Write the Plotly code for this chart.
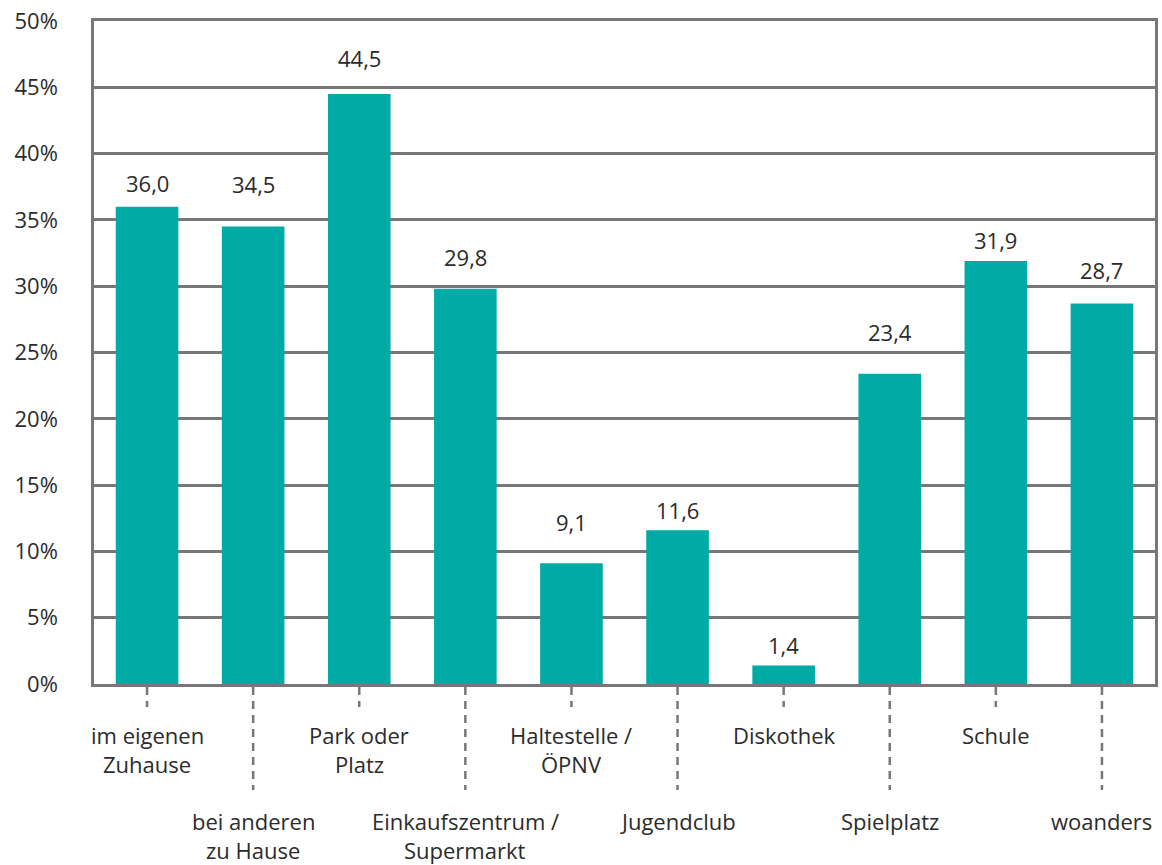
import plotly.graph_objects as go

categories = ["im eigenen<br>Zuhause", "bei anderen<br>zu Hause", "Park oder<br>Platz",
              "Einkaufszentrum /<br>Supermarkt", "Haltestelle /<br>ÖPNV", "Jugendclub",
              "Diskothek", "Spielplatz", "Schule", "woanders"]
values = [36.0, 34.5, 44.5, 29.8, 9.1, 11.6, 1.4, 23.4, 31.9, 28.7]
y_ticks = [0, 5, 10, 15, 20, 25, 30, 35, 40, 45, 50]
# pixel gap of each value label above its bar (style)
label_gap_px = [24, 43, 36, 32, 41, 20, 20, 42, 21, 33]

BAR = "#00ABA6"
GRID = "#77767b"
TXT = "#2b2b2b"
FONT = "Open Sans"
FS = 22

W, H = 1162, 865
ML, MR, MT, MB = 94, 4, 21, 181

x = list(range(len(categories)))
fig = go.Figure(go.Bar(x=x, y=values, marker=dict(color=BAR, line=dict(width=0)),
                       width=0.59, hoverinfo="skip"))

annotations = []
for i, (cat, v) in enumerate(zip(categories, values)):
    annotations.append(dict(x=i, y=v, xref="x", yref="y", text=f"{v:.1f}".replace(".", ","),
                            showarrow=False, yanchor="middle", yshift=label_gap_px[i],
                            font=dict(family=FONT, size=FS, color=TXT)))
    long = (i % 2 == 1)
    base = -137 if long else -51
    for j, line in enumerate(cat.split("<br>")):
        annotations.append(dict(x=i, y=0, xref="x", yref="paper", text=line, showarrow=False,
                                yanchor="middle", yshift=base - 29 * j,
                                font=dict(family=FONT, size=FS, color=TXT)))

# dashed leader lines below axis
plot_h = H - MT - MB
shapes = []
for i in x:
    long = (i % 2 == 1)
    length = 106 if long else 23
    shapes.append(dict(type="line", xref="x", yref="paper", x0=i, x1=i,
                       y0=-3 / plot_h, y1=-length / plot_h,
                       line=dict(color=GRID, width=2.5, dash="8px,6px")))

fig.update_layout(
    width=W, height=H,
    margin=dict(l=ML, r=MR, t=MT, b=MB),
    paper_bgcolor="white", plot_bgcolor="white",
    showlegend=False, bargap=0.4,
    annotations=annotations, shapes=shapes,
    xaxis=dict(range=[-0.5, len(categories) - 0.5], showticklabels=False, showgrid=False,
               zeroline=False, showline=True, mirror=True, linecolor=GRID, linewidth=2.5,
               ticks=""),
    yaxis=dict(range=[0, 50], tickvals=y_ticks, ticktext=[f"{t}%" for t in y_ticks],
               showgrid=True, gridcolor=GRID, gridwidth=2.5, zeroline=False,
               showline=True, mirror=True, linecolor=GRID, linewidth=2.5, ticks="",
               ticklabelstandoff=29, ticklabeloverflow="allow",
               tickfont=dict(family=FONT, size=FS, color=TXT)),
)

fig.write_html("out.html", config={"displayModeBar": False},
               post_script="document.body.style.margin='0';document.body.style.overflow='hidden';")
